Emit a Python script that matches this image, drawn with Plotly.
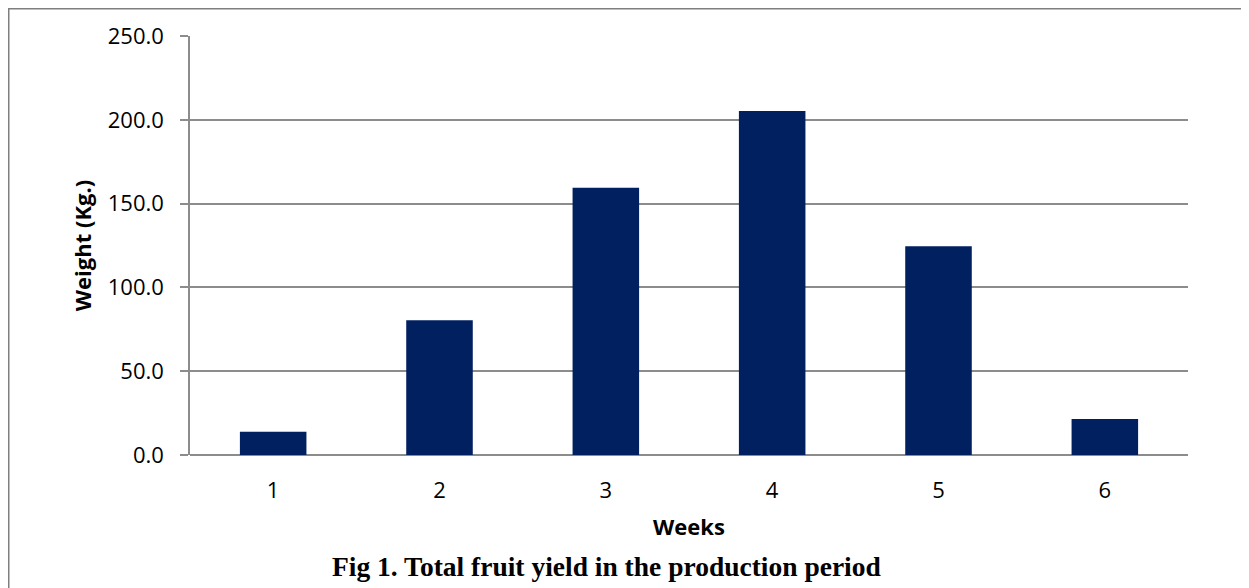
import plotly.graph_objects as go

weeks = ["1", "2", "3", "4", "5", "6"]
weight = [13.9, 80.4, 159.5, 205.3, 124.5, 21.5]
y_ticks = [0, 50, 100, 150, 200, 250]
y_tick_labels = ["0.0", "50.0", "100.0", "150.0", "200.0", "250.0"]

fig = go.Figure()
fig.add_trace(go.Bar(
    x=weeks, y=weight,
    marker=dict(color="#002060", line=dict(width=0)),
    width=0.4,
))

grid = "#8c8c8c"
L, T, W, H = 182, 28, 998, 419
fig.update_layout(
    width=1249, height=588,
    margin=dict(l=L, r=1249 - L - W, t=T, b=588 - T - H),
    paper_bgcolor="white", plot_bgcolor="white",
    showlegend=False,
    font=dict(family="Open Sans, Noto Sans, sans-serif", size=22, color="black"),
    xaxis=dict(
        type="category",
        showgrid=False, showline=False, ticks="",
        tickfont=dict(size=22),
        ticklabelstandoff=20,
        title=dict(text="<b>Weeks</b>", font=dict(size=22), standoff=16),
    ),
    yaxis=dict(
        range=[0, 250], tickvals=y_ticks, ticktext=y_tick_labels,
        showgrid=True, gridcolor=grid, gridwidth=1.5,
        showline=True, linecolor=grid, linewidth=1.5,
        ticks="outside", ticklen=8, tickcolor=grid, tickwidth=1.5,
        zeroline=True, zerolinecolor=grid, zerolinewidth=1.5,
        tickfont=dict(size=22),
        ticklabelstandoff=12,
        title=dict(text="<b>Weight (Kg.)</b>", font=dict(size=22), standoff=10),
    ),
    shapes=[
        dict(type="rect", xref="paper", yref="paper",
             x0=(0.75 - L) / W, x1=1.2, y0=-0.5, y1=1 + (T - 0.75) / H,
             line=dict(color="#7f7f7f", width=1.5), fillcolor="rgba(0,0,0,0)", layer="below"),
    ],
    annotations=[
        dict(text="<b>Fig 1. Total fruit yield in the production period</b>",
             xref="paper", yref="paper", x=(598 - L) / W, y=(T + H - 558) / H,
             xanchor="center", yanchor="middle", showarrow=False,
             font=dict(family="Liberation Serif, Times New Roman, serif", size=27.5, color="black")),
    ],
)

fig.write_html("out.html")
